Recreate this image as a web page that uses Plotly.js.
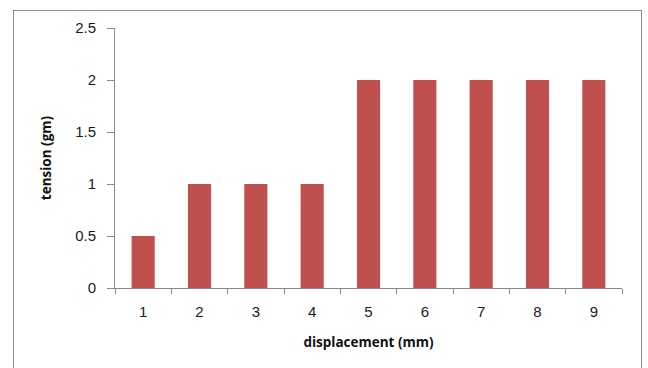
<!DOCTYPE html>
<html>
<head>
<meta charset="utf-8">
<script src="https://cdn.plot.ly/plotly-3.0.1.min.js"></script>
<style>
  html, body { margin: 0; padding: 0; background: #fff; }
  #wrap { position: relative; width: 648px; height: 368px; }
  #chart { width: 648px; height: 368px; }
  #frame { position: absolute; left: 13px; top: 10px; width: 627px; height: 380px;
           border: 1.5px solid #8c8c8c; pointer-events: none; }
</style>
</head>
<body>
<div id="wrap">
  <div id="chart"></div>
  <div id="frame"></div>
</div>
<script>
// displacement (mm) vs tension (gm)
const displacement = ['1', '2', '3', '4', '5', '6', '7', '8', '9'];
const tension = [0.5, 1, 1, 1, 2, 2, 2, 2, 2];
const yTicks = [0, 0.5, 1, 1.5, 2, 2.5];
const yTickText = ['0', '0.5', '1', '1.5', '2', '2.5'];

const trace = {
  type: 'bar',
  x: displacement,
  y: tension,
  marker: { color: '#C0504D', line: { width: 0 } },
  hoverinfo: 'x+y'
};

const tickFont = { family: '"Liberation Sans", Arial, sans-serif', size: 15, color: '#1a1a1a' };
const titleFont = { family: '"Open Sans", sans-serif', size: 13.5, color: '#111', weight: 'bold' };

const layout = {
  width: 648,
  height: 368,
  margin: { l: 115, r: 26, t: 28, b: 80 },
  paper_bgcolor: '#fff',
  plot_bgcolor: '#fff',
  bargap: 0.59,
  showlegend: false,
  xaxis: {
    type: 'category',
    showline: true,
    linecolor: '#8a8a8a',
    linewidth: 1,
    showgrid: false,
    zeroline: false,
    ticks: 'outside',
    tickson: 'boundaries',
    ticklen: 5,
    tickcolor: '#8a8a8a',
    tickfont: tickFont,
    ticklabelstandoff: 10,
    title: { text: 'displacement (mm)', font: titleFont, standoff: 18 }
  },
  yaxis: {
    range: [0, 2.5],
    tickvals: yTicks,
    ticktext: yTickText,
    showline: true,
    linecolor: '#8a8a8a',
    linewidth: 1,
    showgrid: false,
    zeroline: false,
    ticks: 'outside',
    ticklen: 7,
    tickcolor: '#8a8a8a',
    tickfont: tickFont,
    ticklabelstandoff: 8,
    title: { text: 'tension (gm)', font: titleFont, standoff: 20 }
  }
};

Plotly.newPlot('chart', [trace], layout, { staticPlot: true, displayModeBar: false });
</script>
</body>
</html>
